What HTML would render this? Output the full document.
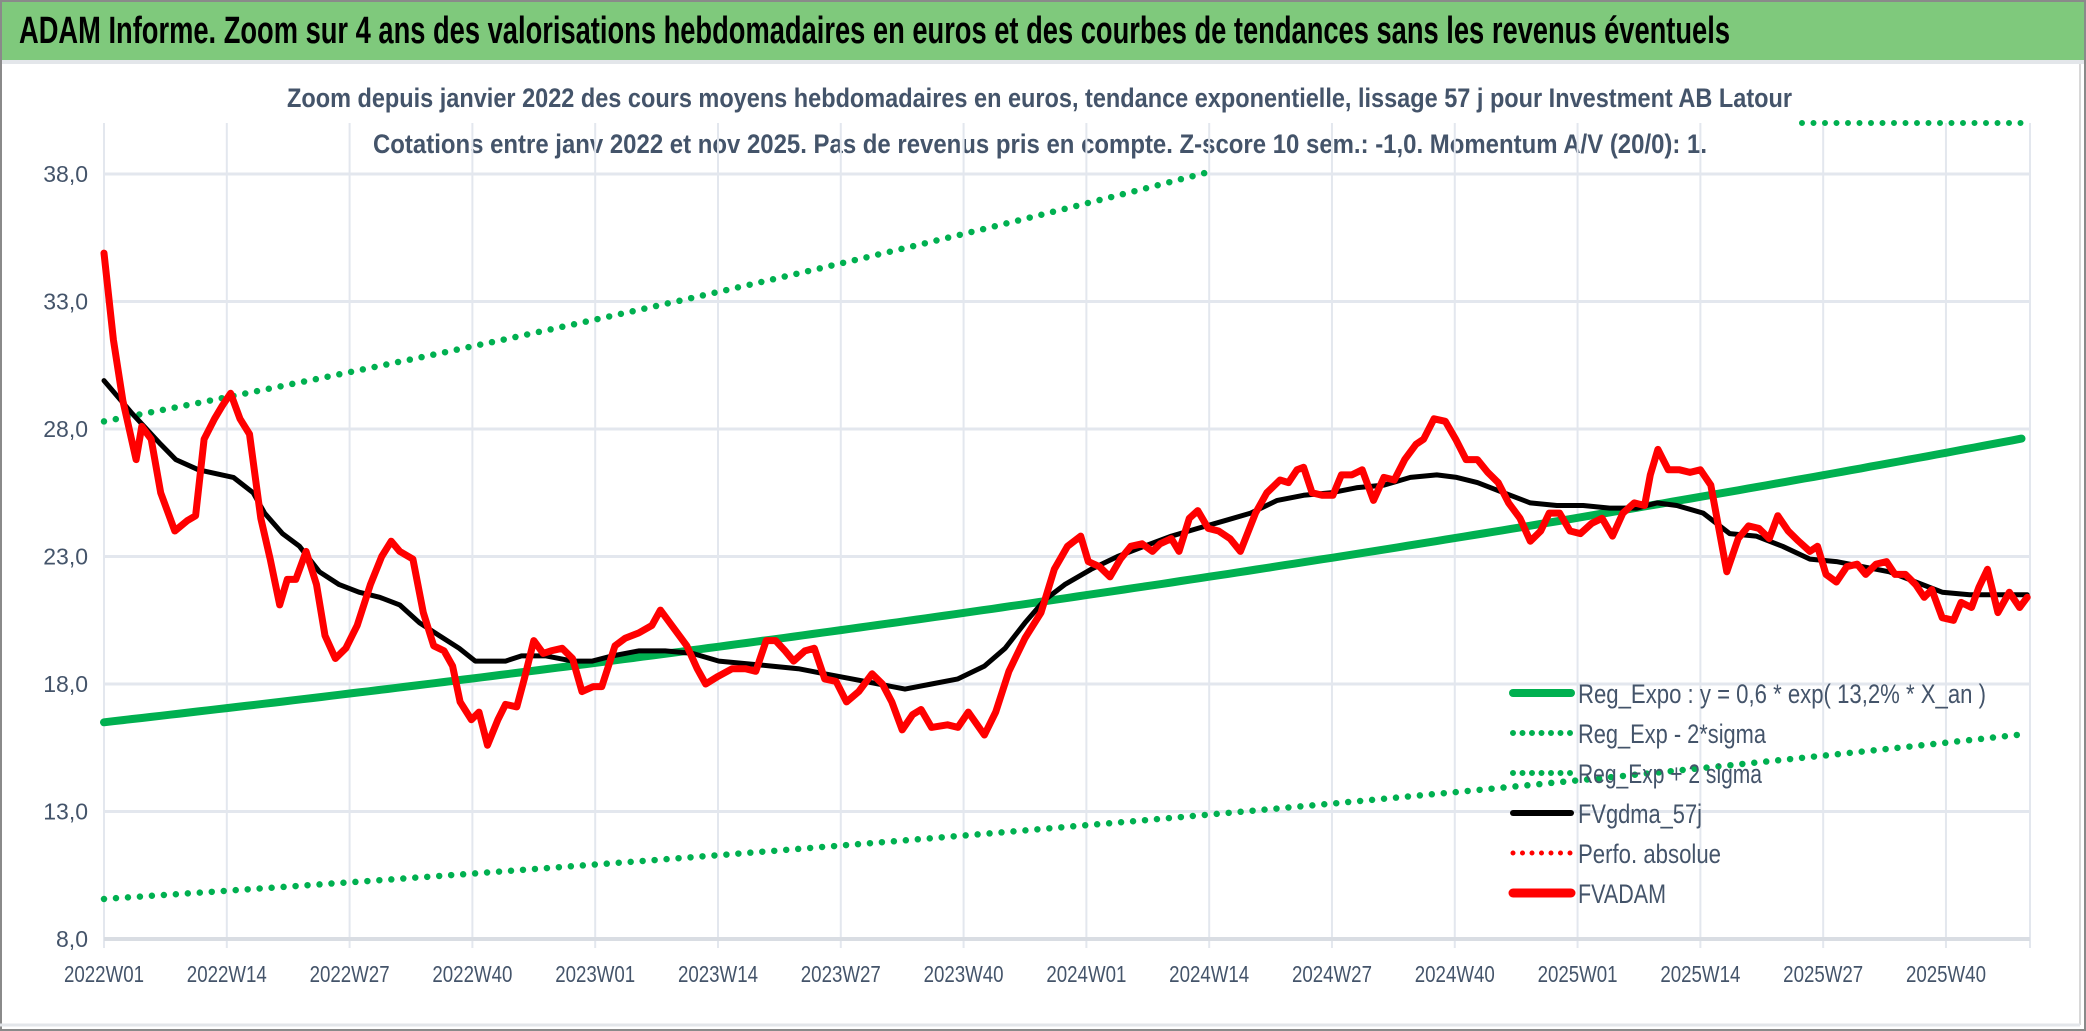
<!DOCTYPE html>
<html><head><meta charset="utf-8"><style>
html,body{margin:0;padding:0;background:#fff;}
svg{display:block;}
text{font-family:"Liberation Sans Narrow","Liberation Sans",sans-serif;}
</style></head><body>
<svg id="chart" width="2086" height="1031" viewBox="0 0 2086 1031" xmlns="http://www.w3.org/2000/svg">
<rect x="0" y="0" width="2086" height="1031" fill="#fff"/>
<rect x="0" y="0" width="2086" height="60" fill="#7fc97c"/>
<rect x="0" y="60" width="2086" height="4" fill="#e3e6ea"/>
<rect x="1" y="1" width="2084" height="1029" fill="none" stroke="#8a8a8a" stroke-width="2"/>
<line x1="2080" y1="64" x2="2080" y2="1025" stroke="#d8d8d8" stroke-width="2"/>
<line x1="0" y1="1025" x2="2080" y2="1025" stroke="#e3e6ea" stroke-width="3"/>
<text x="19" y="43" font-size="38" font-weight="bold" fill="#000" textLength="1711" lengthAdjust="spacingAndGlyphs">ADAM Informe. Zoom sur 4 ans des valorisations hebdomadaires en euros et des courbes de tendances sans les revenus éventuels</text>
<text x="287" y="107" font-size="27" font-weight="bold" fill="#44546a" textLength="1505" lengthAdjust="spacingAndGlyphs">Zoom depuis janvier 2022 des cours moyens hebdomadaires en euros, tendance exponentielle, lissage 57 j pour Investment AB Latour</text>
<text x="373" y="153" font-size="27" font-weight="bold" fill="#44546a" textLength="1334" lengthAdjust="spacingAndGlyphs">Cotations entre janv 2022 et nov 2025. Pas de revenus pris en compte. Z-score 10 sem.: -1,0. Momentum A/V (20/0): 1.</text>
<g id="grid"></g>
<g id="series"></g>
<g id="legend"></g>
</svg>
<script>
// ---- data ----
const xTickLabels = ["2022W01","2022W14","2022W27","2022W40","2023W01","2023W14","2023W27","2023W40","2024W01","2024W14","2024W27","2024W40","2025W01","2025W14","2025W27","2025W40"];
const yTickValues = [8,13,18,23,28,33,38];
const yTickLabels = ["8,0","13,0","18,0","23,0","28,0","33,0","38,0"];
const regExpoStart = [16.5];        // value at week 0
const regExpoRate = [0.132];        // annual growth
const bandUpperFactor = [1.715];
const bandLowerFactor = [0.58];
const lastWeek = [203.6];
const priceWeeks = [0,1,2,3.4,4,5,6,7.5,8.8,9.7,10.6,11.7,12.5,13.4,14.4,15.4,16.6,17.6,18.6,19.4,20.3,21.4,22.5,23.4,24.5,25.6,26.8,28.2,29.4,30.4,31.3,32.7,33.8,34.9,36,36.9,37.7,38.9,39.7,40.6,41.7,42.5,43.7,44.5,45.5,46.5,47.3,48.5,49.6,50.6,51.8,52.7,54.1,55.2,56.6,58,58.9,60.3,61.7,62.8,63.7,65,66.5,67.9,69,70.1,71.1,72.1,73,74.2,75.2,76.3,77.5,78.6,79.9,81.3,82.4,83.4,84.5,85.6,86.5,87.6,89.3,90.4,91.5,93.2,94.4,95.8,97.5,99.2,100.6,102,103.4,104.2,105.4,106.5,107.6,108.7,109.9,111,111.8,113,113.8,114.9,115.8,116.9,118,119.2,120.3,121.9,123.1,124.5,125.4,126.3,127,127.9,129,130.1,131,132.1,133.2,134.4,135.5,136.6,137.7,138.9,139.7,140.8,142,143.1,144.2,145.4,146.5,147.6,148.7,149.9,151,152.1,153,154.1,155.2,156.3,157.5,158.6,159.7,160.8,162,163.1,163.7,164.5,165.6,166.8,167.9,169,170.1,171,171.8,173,174.1,175.2,176.3,177.2,178.3,179.4,180.6,181.4,182.3,183.4,184.5,185.6,186.5,187.6,188.7,189.6,190.7,191.8,192.7,193.5,194.6,195.8,196.6,197.7,198.5,199.4,200.5,201.7,202.8,203.6];
const priceValues = [34.9,31.5,29.1,26.8,28.1,27.6,25.5,24.0,24.4,24.6,27.6,28.4,28.9,29.4,28.4,27.8,24.5,22.9,21.1,22.1,22.1,23.2,21.9,19.9,19.0,19.4,20.3,21.9,23.0,23.6,23.2,22.9,20.8,19.5,19.3,18.7,17.3,16.6,16.9,15.6,16.6,17.2,17.1,18.2,19.7,19.2,19.3,19.4,19.0,17.7,17.9,17.9,19.5,19.8,20.0,20.3,20.9,20.2,19.5,18.6,18.0,18.3,18.6,18.6,18.5,19.7,19.7,19.3,18.9,19.3,19.4,18.2,18.1,17.3,17.7,18.4,18.0,17.3,16.2,16.8,17.0,16.3,16.4,16.3,16.9,16.0,16.9,18.5,19.8,20.8,22.5,23.4,23.8,22.8,22.6,22.2,22.9,23.4,23.5,23.2,23.5,23.7,23.2,24.5,24.8,24.1,24.0,23.7,23.2,24.7,25.5,26.0,25.9,26.4,26.5,25.5,25.4,25.4,26.2,26.2,26.4,25.2,26.1,26.0,26.8,27.4,27.6,28.4,28.3,27.6,26.8,26.8,26.3,25.9,25.1,24.5,23.6,24.0,24.7,24.7,24.0,23.9,24.3,24.5,23.8,24.7,25.1,25.0,26.2,27.2,26.4,26.4,26.3,26.4,25.8,24.0,22.4,23.7,24.2,24.1,23.7,24.6,24.0,23.6,23.2,23.4,22.3,22.0,22.6,22.7,22.3,22.7,22.8,22.3,22.3,21.9,21.4,21.7,20.6,20.5,21.2,21.0,21.8,22.5,20.8,21.6,21.0,21.4];
const smoothWeeks = [0,3,6,7.6,10,13.7,15.8,17,18.9,20.7,22.8,24.9,27,29.2,31.3,33.4,35.5,37.6,39.3,40.4,42.5,44.2,46.8,49.6,51.7,53.8,56.6,59.4,62.3,65.1,67.9,70.7,73.5,76.3,79.2,82,84.8,87.6,90.4,93.2,95.4,97.5,99.6,101.7,104.5,107.3,110.1,113,115.8,118.6,121.4,124.2,127,129.9,132.7,135.5,138.3,141.1,143.2,145.4,148.2,151,153.8,156.6,159.4,162.3,164.4,166.5,169.3,172.1,174.9,177.7,180.6,183.4,186.2,189,191.8,194.6,197.5,200.3,203.6];
const smoothValues = [29.9,28.6,27.4,26.8,26.4,26.1,25.5,24.7,23.9,23.4,22.4,21.9,21.6,21.4,21.1,20.4,19.9,19.4,18.9,18.9,18.9,19.1,19.1,18.9,18.9,19.1,19.3,19.3,19.2,18.9,18.8,18.7,18.6,18.4,18.2,18.0,17.8,18.0,18.2,18.7,19.4,20.4,21.3,21.9,22.5,23.0,23.4,23.8,24.1,24.4,24.7,25.2,25.4,25.5,25.7,25.8,26.1,26.2,26.1,25.9,25.5,25.1,25.0,25.0,24.9,24.9,25.1,25.0,24.7,23.9,23.8,23.4,22.9,22.8,22.6,22.4,22.0,21.6,21.5,21.5,21.5];

// ---- axes ----
const X0 = 104, WEEK = 9.446, PLOT_R = 2030, Y_TOP = 174, Y_BOT = 939, YMIN = 8, YMAX = 38;
const xs = w => X0 + w * WEEK;
const ys = v => Y_TOP + (YMAX - v) * (Y_BOT - Y_TOP) / (YMAX - YMIN);
const NS = "http://www.w3.org/2000/svg";
function mk(tag, attrs, parent) {
  const e = document.createElementNS(NS, tag);
  for (const k in attrs) e.setAttribute(k, attrs[k]);
  parent.appendChild(e);
  return e;
}
const grid = document.getElementById('grid');
const series = document.getElementById('series');
const legend = document.getElementById('legend');

xTickLabels.forEach((lab, i) => {
  const x = xs(i * 13);
  const l = mk('line', {x1: x, y1: 123, x2: x, y2: 948, stroke: '#e3e7ee', 'stroke-width': 2}, grid);
  
  
  const t = mk('text', {x: x, y: 982, 'font-size': 23, fill: '#44546a', 'text-anchor': 'middle', textLength: 80, lengthAdjust: 'spacingAndGlyphs'}, grid);
  t.textContent = lab;
  
  
});
const rl = mk('line', {x1: PLOT_R, y1: 123, x2: PLOT_R, y2: 948, stroke: '#e3e7ee', 'stroke-width': 2}, grid);


yTickValues.forEach((v, i) => {
  const y = ys(v);
  const l = mk('line', {x1: X0, y1: y, x2: PLOT_R, y2: y, stroke: v === YMIN ? '#d9dde3' : '#e3e7ee', 'stroke-width': v === YMIN ? 4 : 3}, grid);
  
  
  const t = mk('text', {x: 88, y: y + 8, 'font-size': 23, fill: '#44546a', 'text-anchor': 'end'}, grid);
  t.textContent = yTickLabels[i];
  
  
});

// ---- series ----
function pathFrom(wks, vals) {
  return wks.map((w, i) => (i ? 'L' : 'M') + xs(w).toFixed(1) + ' ' + ys(vals[i]).toFixed(1)).join(' ');
}
const trendWeeks = [], trendVals = [], upVals = [], loVals = [];
for (let w = 0; w <= lastWeek[0]; w += 1) {
  const v = regExpoStart[0] * Math.exp(regExpoRate[0] * w / 52);
  trendWeeks.push(w); trendVals.push(v); upVals.push(v * bandUpperFactor[0]); loVals.push(v * bandLowerFactor[0]);
}
const upW = [], upV = [];
trendWeeks.forEach((w, i) => { if (upVals[i] <= YMAX + 0.1) { upW.push(w); upV.push(upVals[i]); } });

const pLo = mk('path', {d: pathFrom(trendWeeks, loVals), fill: 'none', stroke: '#00b050', 'stroke-width': 6.5, 'stroke-linecap': 'round', 'stroke-dasharray': '0 12'}, series);


const pUp = mk('path', {d: pathFrom(upW, upV), fill: 'none', stroke: '#00b050', 'stroke-width': 6.5, 'stroke-linecap': 'round', 'stroke-dasharray': '0 12'}, series);


const pUp2 = mk('line', {x1: 1802, y1: 123, x2: 2022, y2: 123, stroke: '#00b050', 'stroke-width': 6, 'stroke-linecap': 'round', 'stroke-dasharray': '0 11.5'}, series);


const pReg = mk('path', {d: pathFrom(trendWeeks, trendVals), fill: 'none', stroke: '#00b050', 'stroke-width': 8, 'stroke-linecap': 'round'}, series);


const pSm = mk('path', {d: pathFrom(smoothWeeks, smoothValues), fill: 'none', stroke: '#000', 'stroke-width': 5, 'stroke-linejoin': 'round', 'stroke-linecap': 'round'}, series);


const pPr = mk('path', {d: pathFrom(priceWeeks, priceValues), fill: 'none', stroke: '#ff0000', 'stroke-width': 7, 'stroke-linejoin': 'round', 'stroke-linecap': 'round'}, series);



// ---- legend ----
const legendLabels = ["Reg_Expo : y = 0,6 * exp( 13,2% *  X_an )", "Reg_Exp - 2*sigma", "Reg_Exp + 2 sigma", "FVgdma_57j", "Perfo. absolue", "FVADAM"];
const legendTextWidths = [408, 188, 184, 124, 143, 88];
const legendColors = ['#00b050', '#00b050', '#00b050', '#000', '#ff0000', '#ff0000'];
const legendDashed = [false, true, true, false, true, false];
const legendWidths = [8, 6, 6, 6, 5, 9];
legendLabels.forEach((lab, i) => {
  const y = 693 + i * 40;
  const l = mk('line', {x1: 1513, y1: y, x2: 1571, y2: y, stroke: legendColors[i], 'stroke-width': legendWidths[i], 'stroke-linecap': 'round'}, legend);
  if (legendDashed[i]) l.setAttribute('stroke-dasharray', '0 9.5');
  
  
  const t = mk('text', {x: 1578, y: y + 10, 'font-size': 27, fill: '#44546a', textLength: legendTextWidths[i], lengthAdjust: 'spacingAndGlyphs'}, legend);
  t.textContent = lab;
  
  
});
</script>
</body></html>
